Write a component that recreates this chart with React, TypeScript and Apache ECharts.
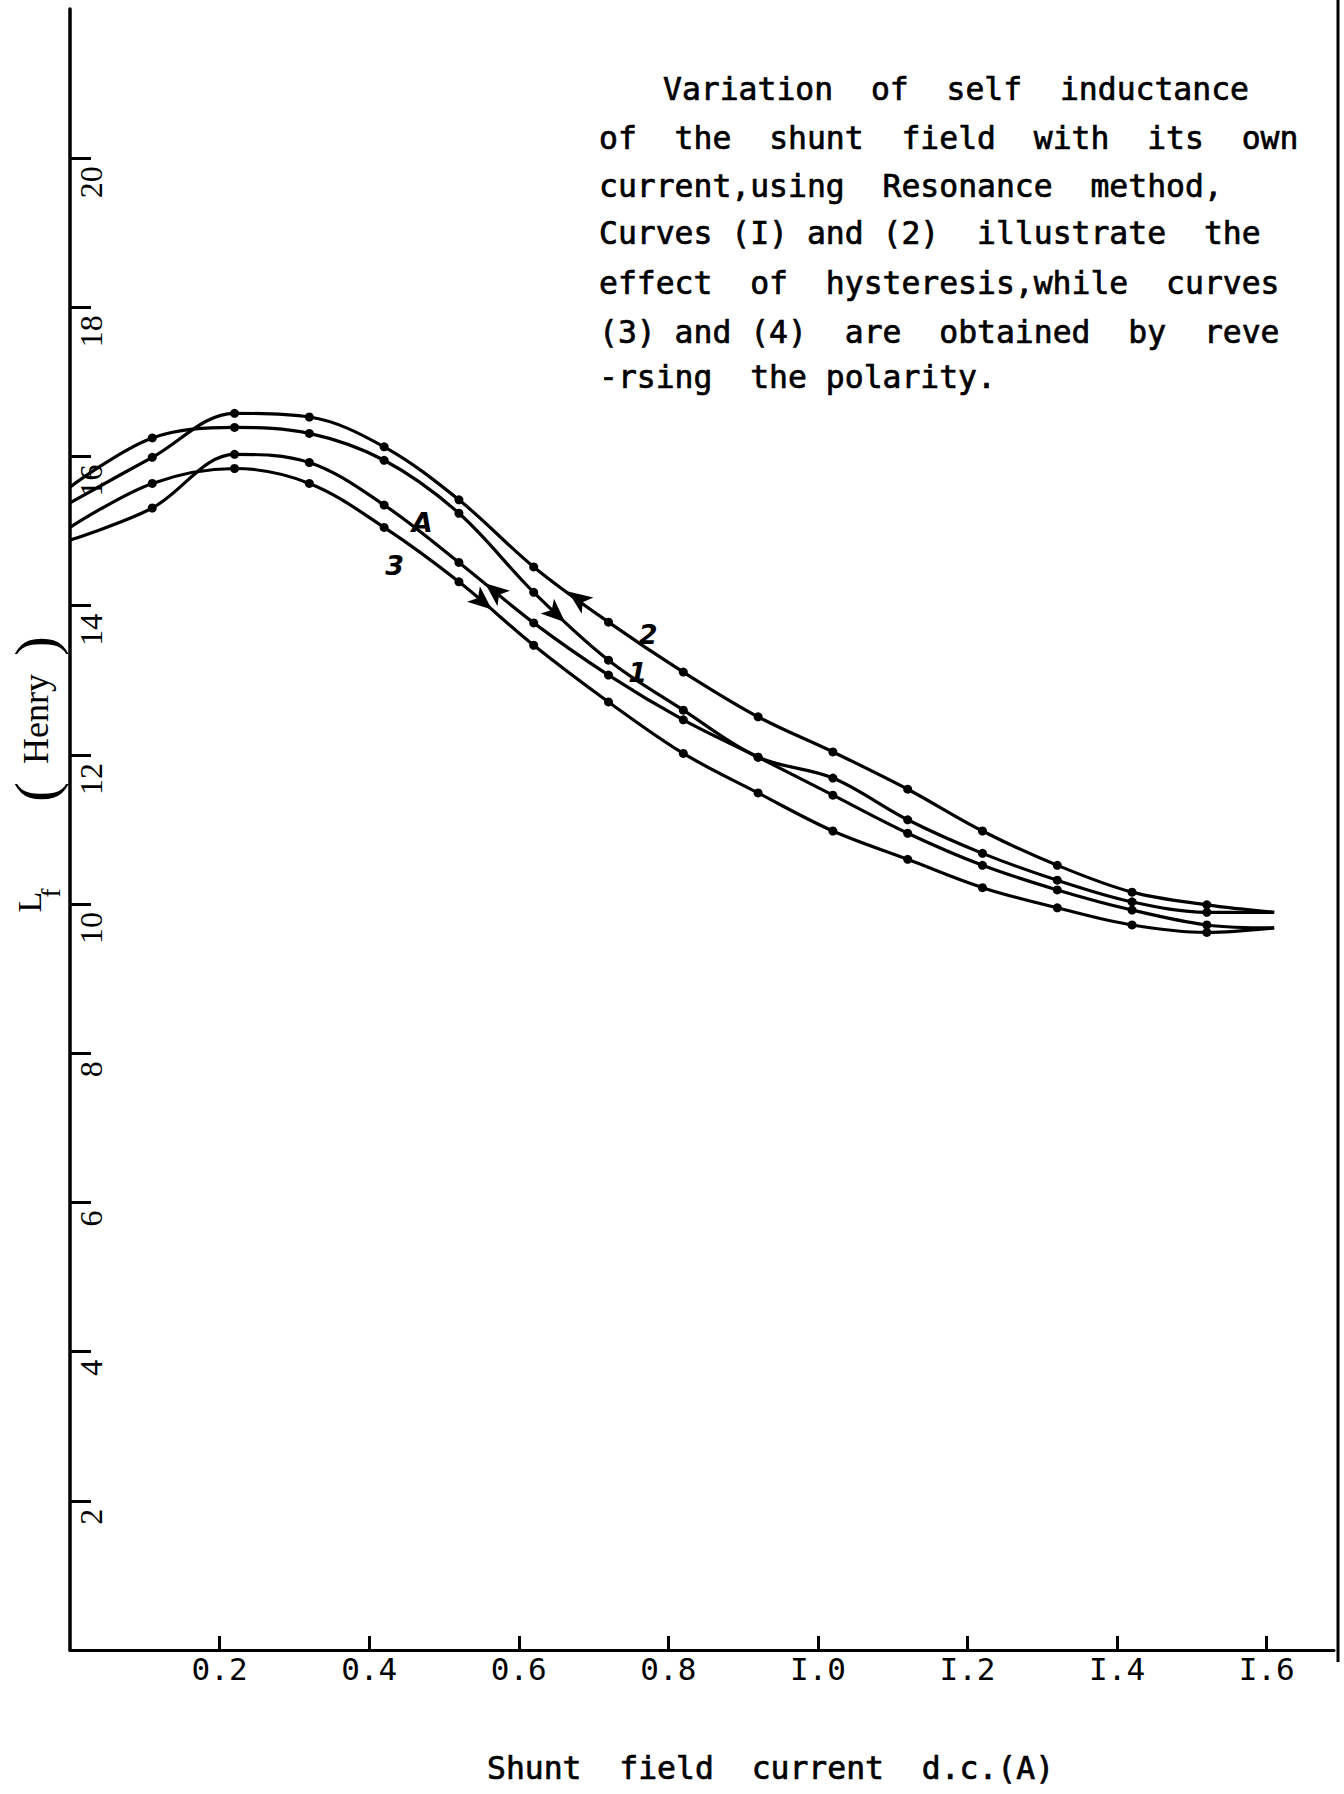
import React, { useEffect, useRef } from 'react';
import * as echarts from 'echarts';

// ---- data ----
const xPoints = [0, 0.11, 0.22, 0.32, 0.42, 0.52, 0.62, 0.72, 0.82, 0.92, 1.02, 1.12, 1.22, 1.32, 1.42, 1.52, 1.61];
const curve1 = [15.59, 16.25, 16.39, 16.31, 15.95, 15.24, 14.18, 13.27, 12.6, 11.97, 11.69, 11.13, 10.68, 10.32, 10.03, 9.89, 9.89];
const curve2 = [15.38, 15.99, 16.58, 16.53, 16.13, 15.42, 14.52, 13.78, 13.11, 12.51, 12.04, 11.54, 10.98, 10.52, 10.16, 9.99, 9.89];
const curve3 = [15.05, 15.64, 15.84, 15.64, 15.05, 14.32, 13.47, 12.71, 12.02, 11.49, 10.98, 10.6, 10.22, 9.95, 9.72, 9.62, 9.68];
const curve4 = [14.88, 15.31, 16.03, 15.92, 15.35, 14.58, 13.77, 13.07, 12.47, 11.97, 11.46, 10.95, 10.52, 10.19, 9.92, 9.72, 9.68];

const curveNames = ['1', '2', '3', 'A'];
// arrow positions [x, y, direction(deg, math convention)]
const arrowPos = [
  [0.662, 13.78, -42],
  [0.666, 14.19, 144],
  [0.564, 13.95, -40],
  [0.555, 14.3, 141],
];
// hand-written curve labels [x, y]
const labelPos = [
  [0.759, 13.1],
  [0.773, 13.61],
  [0.434, 14.54],
  [0.471, 15.11],
];

const xTickValues = [0.2, 0.4, 0.6, 0.8, 1.0, 1.2, 1.4, 1.6];
const xTickLabels = ['0.2', '0.4', '0.6', '0.8', 'I.0', 'I.2', 'I.4', 'I.6'];
const yTickValues = [2, 4, 6, 8, 10, 12, 14, 16, 18, 20];

const titleLines = [
  'Variation  of  self  inductance',
  'of  the  shunt  field  with  its  own',
  'current,using  Resonance  method,',
  'Curves (I) and (2)  illustrate  the',
  'effect  of  hysteresis,while  curves',
  '(3) and (4)  are  obtained  by  reve',
  '-rsing  the polarity.',
];
const xAxisTitle = 'Shunt  field  current  d.c.(A)';

const MONO = 'DejaVu Sans Mono';
const TITLE_SIZE = 31.4;

function wordsOf(line: string, x0: number, y: number, size: number) {
  const out: any[] = [];
  const re = /\S+/g;
  let m: RegExpExecArray | null;
  while ((m = re.exec(line))) {
    out.push({
      type: 'text',
      x: x0 + m.index * size * 0.602,
      y,
      style: {
        text: m[0],
        fontFamily: MONO,
        fontSize: size,
        fill: '#000',
        stroke: '#000',
        lineWidth: 0.7,
        align: 'left',
        verticalAlign: 'middle',
      },
    });
  }
  return out;
}

export default function App() {
  const ref = useRef<HTMLDivElement>(null);
  useEffect(() => {
    if (!ref.current) return;
    const chart = echarts.init(ref.current, null, { renderer: 'svg' });
    const curves = [curve1, curve2, curve3, curve4];

    const titleY = [89, 138, 186, 233, 283, 332, 377];
    const titleX = [663, 599, 599, 599, 599, 599, 599];
    const graphics: any[] = [];
    titleLines.forEach((l, i) => graphics.push(...wordsOf(l, titleX[i], titleY[i], TITLE_SIZE)));
    graphics.push(...wordsOf(xAxisTitle, 487, 1768, TITLE_SIZE));
    graphics.push({
      type: 'text',
      x: 36,
      y: 719,
      rotation: Math.PI / 2,
      style: {
        text: '{p|(}{h|  Henry  }{p|)}',
        align: 'center',
        verticalAlign: 'middle',
        fill: '#000',
        rich: {
          p: { fontFamily: 'Liberation Serif', fontSize: 60, fill: '#000', verticalAlign: 'middle' },
          h: { fontFamily: 'Liberation Serif', fontSize: 36, fill: '#000', verticalAlign: 'middle' },
        },
      },
    });
    graphics.push({
      type: 'text', x: 29, y: 902, rotation: Math.PI / 2,
      style: { text: 'L', fontFamily: 'Liberation Serif', fontSize: 34, fill: '#000', align: 'center', verticalAlign: 'middle' },
    });
    graphics.push({
      type: 'text', x: 51, y: 893, rotation: Math.PI / 2,
      style: { text: 'f', fontFamily: 'Liberation Serif', fontSize: 27, fill: '#000', align: 'center', verticalAlign: 'middle' },
    });
    graphics.push({
      type: 'line',
      shape: { x1: 1338, y1: 0, x2: 1338, y2: 1662 },
      style: { stroke: '#000', lineWidth: 3 },
    });

    const option: any = {
      animation: false,
      backgroundColor: '#fff',
      grid: { left: 70, right: 10, top: 9, bottom: 144, containLabel: false },
      xAxis: {
        type: 'value',
        min: 0,
        max: 1.69,
        interval: 0.2,
        axisLine: { show: true, onZero: false, lineStyle: { color: '#000', width: 3 } },
        axisTick: { show: true, inside: true, length: 14, customValues: xTickValues, lineStyle: { color: '#000', width: 3 } },
        axisLabel: {
          customValues: xTickValues,
          formatter: (v: number) => {
            const i = xTickValues.findIndex((t) => Math.abs(t - v) < 1e-6);
            return i >= 0 ? xTickLabels[i] : '';
          },
          fontFamily: MONO,
          fontSize: 31,
          color: '#000',
          margin: 3,
        },
        splitLine: { show: false },
      },
      yAxis: {
        type: 'value',
        min: 0,
        max: 22,
        interval: 2,
        axisLine: { show: true, onZero: false, lineStyle: { color: '#000', width: 3.5 } },
        axisTick: { show: true, inside: true, length: 21, customValues: yTickValues, lineStyle: { color: '#000', width: 3 } },
        axisLabel: {
          inside: true,
          rotate: 90,
          customValues: yTickValues,
          formatter: (v: number) => String(v),
          fontFamily: 'Liberation Serif',
          fontSize: 32,
          color: '#000',
          margin: 5,
          align: 'right',
          verticalAlign: 'top',
          padding: [0, 8, 0, 0],
        },
        splitLine: { show: false },
      },
      series: curves.map((c, k) => ({
        type: 'line',
        name: 'Curve ' + curveNames[k],
        data: xPoints.map((x, i) => ({
          value: [x, c[i]],
          symbolSize: i === 0 || i === xPoints.length - 1 ? 0 : 9,
        })),
        smooth: 0.35,
        symbol: 'circle',
        showSymbol: true,
        lineStyle: { color: '#000', width: 3.2 },
        itemStyle: { color: '#000' },
        emphasis: { disabled: true },
        markPoint: {
          silent: true,
          data: [
            {
              coord: [arrowPos[k][0], arrowPos[k][1]],
              symbol: 'arrow',
              symbolSize: [15, 24],
              symbolRotate: arrowPos[k][2] - 90,
              itemStyle: { color: '#000' },
              label: { show: false },
            },
            {
              coord: [labelPos[k][0], labelPos[k][1]],
              symbol: 'circle',
              symbolSize: 1,
              itemStyle: { color: 'rgba(0,0,0,0)' },
              label: {
                show: true,
                position: 'inside',
                formatter: curveNames[k],
                color: '#000',
                fontSize: 27,
                fontWeight: 'bold',
                fontFamily: 'DejaVu Sans',
                fontStyle: 'italic',
              },
            },
          ],
        },
      })),
      graphic: { elements: graphics },
    };
    chart.setOption(option);
    return () => chart.dispose();
  }, []);
  return (
    <div
      ref={ref}
      style={{ position: 'absolute', left: 0, top: 0, width: 1344, height: 1794, background: '#fff' }}
    />
  );
}
